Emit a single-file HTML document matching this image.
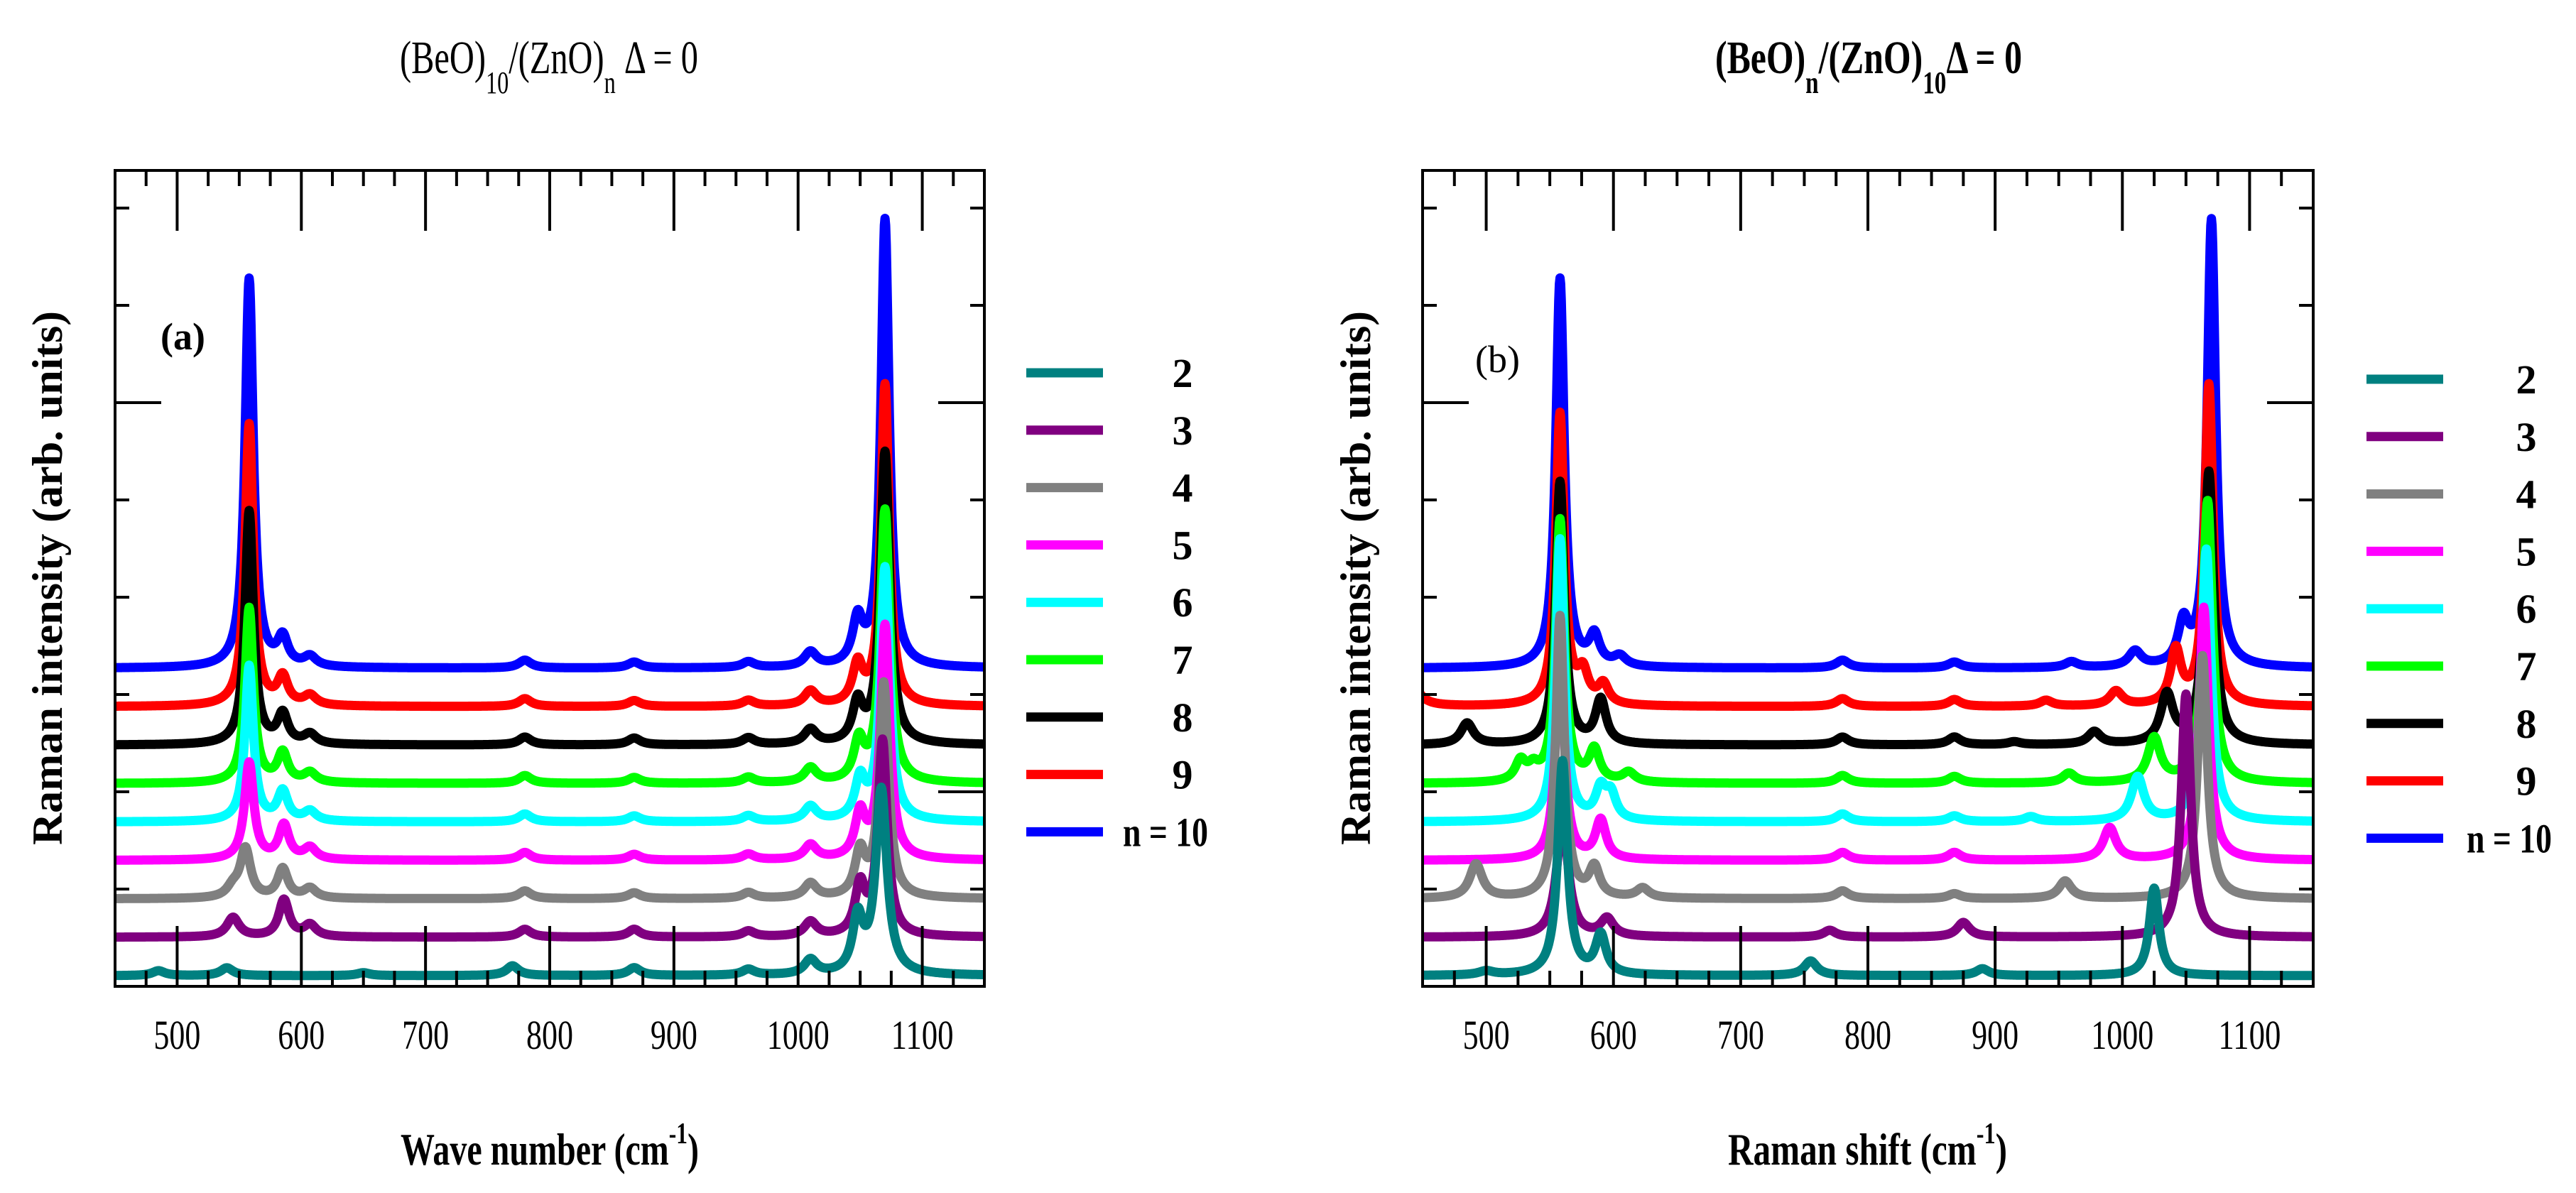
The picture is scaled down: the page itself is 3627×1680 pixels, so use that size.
<!DOCTYPE html>
<html><head><meta charset="utf-8"><style>
html,body{margin:0;padding:0;background:#fff;}
svg{display:block;}
text{font-family:"Liberation Serif",serif;fill:#000;}
</style></head><body>
<svg id="chart" width="3627" height="1680" viewBox="0 0 3627 1680" xmlns="http://www.w3.org/2000/svg">
<defs>
<clipPath id="clipA"><rect x="162" y="240" width="1224" height="1149"/></clipPath>
<clipPath id="clipB"><rect x="2003" y="240" width="1254" height="1149"/></clipPath>
</defs>
<g id="panelA"></g>
<g id="panelB"></g>
<text x="563" y="103" font-size="66" textLength="420" lengthAdjust="spacingAndGlyphs">(BeO)<tspan font-size="44" dy="28">10</tspan><tspan dy="-28">/(ZnO)</tspan><tspan font-size="44" dy="28">n</tspan><tspan dy="-28"> Δ = 0</tspan></text>
<text x="2415" y="103" font-size="66" font-weight="bold" textLength="432" lengthAdjust="spacingAndGlyphs">(BeO)<tspan font-size="44" dy="28">n</tspan><tspan dy="-28">/(ZnO)</tspan><tspan font-size="44" dy="28">10</tspan><tspan dy="-28">Δ = 0</tspan></text>
<text x="564" y="1640" font-size="64" font-weight="bold" textLength="420" lengthAdjust="spacingAndGlyphs">Wave number (cm<tspan font-size="42" dy="-30">-1</tspan><tspan dy="30">)</tspan></text>
<text x="2433" y="1640" font-size="64" font-weight="bold" textLength="393" lengthAdjust="spacingAndGlyphs">Raman shift (cm<tspan font-size="42" dy="-30">-1</tspan><tspan dy="30">)</tspan></text>
<text transform="translate(87,814) rotate(-90)" text-anchor="middle" font-size="60" font-weight="bold" textLength="752" lengthAdjust="spacingAndGlyphs">Raman intensity (arb. units)</text>
<text transform="translate(1929,814) rotate(-90)" text-anchor="middle" font-size="60" font-weight="bold" textLength="752" lengthAdjust="spacingAndGlyphs">Raman intensity (arb. units)</text>
<text x="226" y="492" font-size="54" font-weight="bold">(a)</text>
<text x="2077" y="524" font-size="54">(b)</text>
</svg>
<script>
// ---- data ----
const seriesLabels = ["2","3","4","5","6","7","8","9","n = 10"];
const seriesColors = ["#008080","#800080","#808080","#ff00ff","#00ffff","#00ff00","#000000","#ff0000","#0000ff"];
const xTicks = [500,600,700,800,900,1000,1100];
const baseOffset = 0.11;   // baseline of first series (tick units)
const offsetStep = 0.395;  // vertical stacking step (tick units)
// peaks: [position cm-1, amplitude (tick units), half-width cm-1]
const peaksA_2 = [[485,0.05,6],[540,0.08,6],[650,0.03,6],[770,0.1,6],[868,0.08,6],[960,0.06,6],[1010,0.15,6],[1048,0.55,5],[1067,1.9,5.5]];
const peaksA_3 = [[545,0.2,6],[586,0.38,5],[607,0.12,6],[780,0.08,6],[868,0.08,6],[960,0.06,6],[1010,0.15,6],[1050,0.5,5],[1068,2.0,4.5]];
const peaksA_4 = [[545,0.1,6],[555,0.5,5],[585,0.3,5],[607,0.1,6],[780,0.08,6],[868,0.06,6],[960,0.06,6],[1010,0.15,6],[1050,0.45,5],[1069,2.2,4.5]];
const peaksA_5 = [[558,1.0,4.5],[586,0.35,5],[607,0.12,6],[780,0.08,6],[868,0.06,6],[960,0.06,6],[1010,0.15,6],[1050,0.45,5],[1070,2.4,4.5]];
const peaksA_6 = [[558,1.6,4],[585,0.3,5],[607,0.1,6],[780,0.08,6],[868,0.06,6],[960,0.06,6],[1010,0.15,6],[1050,0.4,5],[1070,2.6,4.5]];
const peaksA_7 = [[558,1.8,4],[585,0.3,5],[607,0.1,6],[780,0.08,6],[868,0.06,6],[960,0.06,6],[1010,0.15,6],[1049,0.4,5],[1070,2.8,4.5]];
const peaksA_8 = [[558,2.4,4],[585,0.3,5],[607,0.1,6],[780,0.08,6],[868,0.07,6],[960,0.07,6],[1010,0.15,6],[1048,0.4,5],[1070,3.0,4.5]];
const peaksA_9 = [[558,2.9,4],[585,0.28,5],[607,0.1,6],[780,0.08,6],[868,0.06,6],[960,0.06,6],[1010,0.15,6],[1048,0.4,5],[1070,3.3,4]];
const peaksA_10 = [[558,4.0,4],[585,0.28,5],[607,0.1,6],[780,0.08,6],[868,0.06,6],[960,0.06,6],[1010,0.15,6],[1048,0.45,5],[1070,4.6,4]];
const peaksB_2 = [[500,0.04,7],[560,2.2,4.5],[590,0.4,5],[755,0.15,6],[890,0.07,6],[1025,0.9,4.5]];
const peaksB_3 = [[560,1.2,5.5],[595,0.18,6],[770,0.07,6],[875,0.15,6],[1050,2.5,4.5]];
const peaksB_4 = [[492,0.35,6],[558,2.9,4],[585,0.3,5],[623,0.1,6],[780,0.08,6],[868,0.05,6],[955,0.18,6],[1063,2.5,4.5]];
const peaksB_5 = [[558,2.2,4],[590,0.4,5],[780,0.08,6],[868,0.08,6],[990,0.33,6],[1064,2.6,4.5]];
const peaksB_6 = [[558,2.9,4],[590,0.3,5],[598,0.25,5],[780,0.08,6],[868,0.06,6],[928,0.05,6],[1012,0.45,6],[1066,2.8,4.5]];
const peaksB_7 = [[527,0.2,5],[537,0.12,5],[558,2.7,4],[585,0.32,5],[612,0.1,6],[780,0.08,6],[868,0.07,6],[958,0.1,6],[1025,0.45,6],[1067,2.9,4.5]];
const peaksB_8 = [[485,0.22,6],[558,2.7,4],[590,0.45,5],[780,0.08,6],[868,0.08,6],[915,0.03,6],[978,0.13,6],[1035,0.5,6],[1068,2.8,4.5]];
const peaksB_9 = [[440,0.3,7],[558,3.0,4],[576,0.3,5],[592,0.2,5],[780,0.08,6],[868,0.07,6],[940,0.06,6],[995,0.15,6],[1042,0.55,5],[1068,3.3,4]];
const peaksB_10 = [[558,4.0,4],[585,0.3,5],[605,0.1,6],[780,0.08,6],[868,0.06,6],[960,0.06,6],[1010,0.16,6],[1048,0.42,5],[1070,4.6,4]];
const peaksA = [peaksA_2,peaksA_3,peaksA_4,peaksA_5,peaksA_6,peaksA_7,peaksA_8,peaksA_9,peaksA_10];
const peaksB = [peaksB_2,peaksB_3,peaksB_4,peaksB_5,peaksB_6,peaksB_7,peaksB_8,peaksB_9,peaksB_10];

const NS="http://www.w3.org/2000/svg";
function mk(tag,attrs,parent){const e=document.createElementNS(NS,tag);for(const k in attrs)e.setAttribute(k,attrs[k]);parent.appendChild(e);return e;}

function drawPanel(g,clipId,x0,x1,peaks,legX,legLabelX,legY0,longRightK){
  const top=240,bot=1389,unit=137;
  const xs=v=>x0+(v-450)*(x1-x0)/700;
  const ys=v=>bot-v*unit;
  const sg=mk('g',{'clip-path':'url(#'+clipId+')'},g);
  for(let i=peaks.length-1;i>=0;i--){
    const base=baseOffset+i*offsetStep;
    let d='';
    for(let w=448;w<=1152;w+=0.5){
      let v=base;
      for(const p of peaks[i]){const t=(w-p[0])/p[2];v+=p[1]/(1+t*t);}
      d+=(d?'L':'M')+xs(w).toFixed(1)+','+ys(v).toFixed(1);
    }
    const path=mk('path',{d:d,fill:'none',stroke:seriesColors[i],'stroke-width':13,'stroke-linejoin':'round'},sg);
    
    
  }
  const fr=mk('rect',{x:x0,y:top,width:x1-x0,height:bot-top,fill:'none',stroke:'#000','stroke-width':4},g);
  
  
  for(let v=475;v<=1125;v+=25){
    const L=(v%100===0)?85:22;
    const X=xs(v);
    mk('line',{x1:X,y1:bot,x2:X,y2:bot-L,stroke:'#000','stroke-width':4},g);
    mk('line',{x1:X,y1:top,x2:X,y2:top+L,stroke:'#000','stroke-width':4},g);
  }
  for(const v of xTicks){
    const t=mk('text',{x:xs(v),y:1477,'text-anchor':'middle','font-size':58,textLength:String(v).length*22,lengthAdjust:'spacingAndGlyphs'},g);
    t.textContent=v;
    
    
  }
  for(let k=1;k<=8;k++){
    const Y=ys(k);
    const L=(k===6)?65:20;
    const LR=(k===6||k===longRightK)?65:20;
    mk('line',{x1:x0,y1:Y,x2:x0+L,y2:Y,stroke:'#000','stroke-width':4},g);
    mk('line',{x1:x1,y1:Y,x2:x1-LR,y2:Y,stroke:'#000','stroke-width':4},g);
  }
  const lg=mk('g',{},g);
  
  
  for(let i=0;i<seriesLabels.length;i++){
    const Y=legY0+i*80.8;
    const e=mk('g',{},lg);
    
    
    mk('line',{x1:legX,y1:Y,x2:legX+108,y2:Y,stroke:seriesColors[i],'stroke-width':13},e);
    const isN=seriesLabels[i].length>2;
    const t=mk('text',{x:isN?legLabelX-72:legLabelX+12,y:Y+20,'font-size':58,'font-weight':'bold','text-anchor':isN?'start':'middle'},e);
    if(isN){t.setAttribute('textLength',120);t.setAttribute('lengthAdjust','spacingAndGlyphs');}
    t.textContent=seriesLabels[i];
  }
}
drawPanel(document.getElementById('panelA'),'clipA',162,1386,peaksA,1445,1653,525,2);
drawPanel(document.getElementById('panelB'),'clipB',2003,3257,peaksB,3332,3545,534,0);
</script>
</body></html>
